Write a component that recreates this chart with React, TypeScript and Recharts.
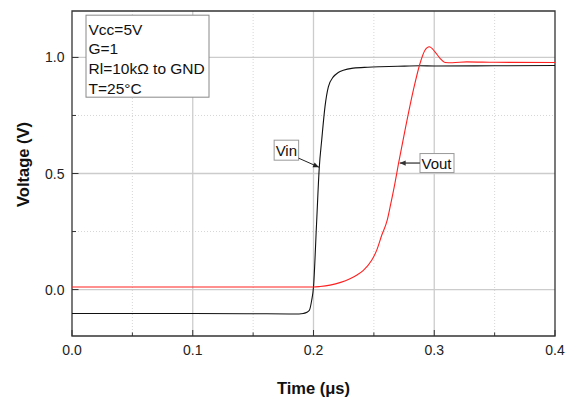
import React from 'react';
import {
  LineChart,
  Line,
  XAxis,
  YAxis,
  CartesianGrid,
  ReferenceArea,
  ReferenceLine,
  ReferenceDot,
  Label,
} from 'recharts';

// Vin trace (black)
const vinTime = [
  0, 0.05, 0.1, 0.15, 0.18, 0.188, 0.1916, 0.1945, 0.1966, 0.1985, 0.2,
  0.2025, 0.2048, 0.2068, 0.2095, 0.2123, 0.2164, 0.2205, 0.2247, 0.233,
  0.245, 0.255, 0.27, 0.288, 0.3, 0.35, 0.4,
];
const vinVolt = [
  -0.103, -0.103, -0.103, -0.104, -0.105, -0.105, -0.103, -0.098, -0.089,
  -0.046, 0.011, 0.28, 0.527, 0.644, 0.787, 0.873, 0.916, 0.935, 0.945, 0.954,
  0.958, 0.96, 0.962, 0.964, 0.963, 0.964, 0.965,
];

// Vout trace (red)
const voutTime = [
  0, 0.1, 0.2, 0.2054, 0.2137, 0.2225, 0.2302, 0.236, 0.2413, 0.2482, 0.2523,
  0.2565, 0.2611, 0.2634, 0.2675, 0.2703, 0.2758, 0.2827, 0.2882, 0.2923,
  0.2959, 0.3006, 0.3048, 0.3089, 0.315, 0.327, 0.35, 0.4,
];
const voutVolt = [
  0.011, 0.011, 0.011, 0.013, 0.019, 0.031, 0.047, 0.063, 0.083, 0.126,
  0.169, 0.234, 0.3, 0.355, 0.46, 0.54, 0.687, 0.859, 0.974, 1.031, 1.046,
  1.024, 0.996, 0.978, 0.977, 0.981, 0.979, 0.978,
];

const xTicks = [0, 0.05, 0.1, 0.15, 0.2, 0.25, 0.3, 0.35, 0.4];
const yTicks = [0, 0.25, 0.5, 0.75, 1.0];
const xMajorGrid = [0.1, 0.2, 0.3];
const xMinorGrid = [0.05, 0.15, 0.25, 0.35];
const yMajorGrid = [0, 0.5, 1.0];
const yMinorGrid = [0.25, 0.75];

const conditions = ['Vcc=5V', 'G=1', 'Rl=10kΩ to GND', 'T=25°C'];

const vinData = vinTime.map((t, i) => ({ t, v: vinVolt[i] }));
const voutData = voutTime.map((t, i) => ({ t, v: voutVolt[i] }));

const FONT = '"Liberation Sans", Arial, sans-serif';

const isMajor = (v: number, step: number) =>
  Math.abs(v / step - Math.round(v / step)) < 1e-6;

const XTick = (props: any) => {
  const { x, y, payload } = props;
  const major = isMajor(payload.value, 0.1);
  return (
    <g>
      <line x1={x} x2={x} y1={y} y2={y - (major ? 6 : 3.5)} stroke='#333' />
      {major && (
        <text x={x} y={y + 19} textAnchor='middle' fontSize={14} fontFamily={FONT} fill='#222'>
          {payload.value.toFixed(1)}
        </text>
      )}
    </g>
  );
};

const YTick = (props: any) => {
  const { x, y, payload } = props;
  const major = isMajor(payload.value, 0.5);
  return (
    <g>
      <line x1={x} x2={x + (major ? 6.5 : 4)} y1={y} y2={y} stroke='#333' />
      {major && (
        <text x={x - 7.5} y={y + 5} textAnchor='end' fontSize={14} fontFamily={FONT} fill='#222'>
          {payload.value.toFixed(1)}
        </text>
      )}
    </g>
  );
};

const arrowHead = (x1: number, y1: number, x2: number, y2: number, color: string) => {
  const a = Math.atan2(y2 - y1, x2 - x1);
  const c = Math.cos(a);
  const s = Math.sin(a);
  const bx = x2 - 6 * c;
  const by = y2 - 6 * s;
  const pts = `${x2},${y2} ${bx - 2.6 * s},${by + 2.6 * c} ${bx + 2.6 * s},${by - 2.6 * c}`;
  return <polygon points={pts} fill={color} />;
};

// label box sits left of the arrow start
const VinShape = (p: any) => {
  const { x1, y1, x2, y2 } = p;
  return (
    <g>
      <rect x={x1 - 24.5} y={y1 - 18} width={24.5} height={20} fill='#fff' stroke='#999' />
      <text x={x1 - 23} y={y1 - 2.5} fontSize={15} fontFamily={FONT} fill='#111'>
        Vin
      </text>
      <line x1={x1} y1={y1} x2={x2} y2={y2} stroke='#222' />
      {arrowHead(x1, y1, x2, y2, '#222')}
    </g>
  );
};

// label box sits right of the arrow start
const VoutShape = (p: any) => {
  const { x1, y1, x2, y2 } = p;
  return (
    <g>
      <rect x={x1} y={y1 - 9.5} width={34} height={19} fill='#fff' stroke='#999' />
      <text x={x1 + 1.5} y={y1 + 6} fontSize={15} fontFamily={FONT} fill='#111'>
        Vout
      </text>
      <line x1={x1} y1={y1} x2={x2} y2={y2} stroke='#555' strokeWidth={1.5} />
      {arrowHead(x1, y1, x2, y2, '#333')}
    </g>
  );
};

const ConditionsBox = (p: any) => {
  const { cx, cy } = p;
  return (
    <g>
      <rect x={cx} y={cy} width={123} height={82} fill='#fff' stroke='#888' />
      {conditions.map((c, i) => (
        <text key={c} x={cx + 2.5} y={cy + 19.5 + i * 19.7} fontSize={15.5} fontFamily={FONT} fill='#111'>
          {c}
        </text>
      ))}
    </g>
  );
};

export default function App() {
  return (
    <div style={{ position: 'absolute', left: 0, top: 0, background: '#fff' }}>
      <LineChart
        width={574}
        height={399}
        margin={{ top: 11, right: 19, bottom: 0, left: 0 }}
      >
        <CartesianGrid
          horizontalValues={yMinorGrid}
          verticalValues={xMinorGrid}
          stroke='#d6d6d6'
          strokeDasharray='1 2'
        />
        <CartesianGrid
          horizontalValues={yMajorGrid}
          verticalValues={xMajorGrid}
          stroke='#cccccc'
          strokeWidth={1.3}
        />
        <XAxis
          type='number'
          dataKey='t'
          domain={[0, 0.4]}
          ticks={xTicks}
          interval={0}
          height={63}
          tickSize={0}
          tickMargin={0}
          axisLine={false}
          tick={XTick}
          allowDataOverflow
        >
          <Label
            content={(p: any) => {
              const vb = p.viewBox;
              return (
                <text
                  x={vb.x + vb.width / 2}
                  y={vb.y + 57.5}
                  textAnchor='middle'
                  fontSize={16.5}
                  fontWeight='bold'
                  fontFamily={FONT}
                  fill='#111'
                >
                  Time (μs)
                </text>
              );
            }}
          />
        </XAxis>
        <YAxis
          type='number'
          domain={[-0.2, 1.2]}
          ticks={yTicks}
          interval={0}
          width={72}
          tickSize={0}
          tickMargin={0}
          axisLine={false}
          tick={YTick}
          allowDataOverflow
        >
          <Label
            content={(p: any) => {
              const vb = p.viewBox;
              const cx = vb.x + 29;
              const cy = vb.y + vb.height / 2 - 9;
              return (
                <text
                  x={cx}
                  y={cy}
                  transform={`rotate(-90, ${cx}, ${cy})`}
                  textAnchor='middle'
                  fontSize={16.5}
                  fontWeight='bold'
                  fontFamily={FONT}
                  fill='#111'
                >
                  Voltage (V)
                </text>
              );
            }}
          />
        </YAxis>
        <ReferenceArea
          x1={0}
          x2={0.4}
          y1={-0.2}
          y2={1.2}
          fill='none'
          stroke='#333'
          strokeWidth={1.3}
          fillOpacity={0}
        />
        <Line
          data={vinData}
          dataKey='v'
          type='monotone'
          stroke='#111'
          strokeWidth={1.1}
          dot={false}
          isAnimationActive={false}
        />
        <Line
          data={voutData}
          dataKey='v'
          type='monotone'
          stroke='#ff2020'
          strokeWidth={1.1}
          dot={false}
          isAnimationActive={false}
        />
        <ReferenceLine
          segment={[
            { x: 0.1877, y: 0.566 },
            { x: 0.2046, y: 0.527 },
          ]}
          shape={VinShape}
        />
        <ReferenceLine
          segment={[
            { x: 0.2882, y: 0.545 },
            { x: 0.2714, y: 0.545 },
          ]}
          shape={VoutShape}
        />
        <ReferenceDot x={0.0116} y={1.182} r={0} shape={ConditionsBox} />
      </LineChart>
    </div>
  );
}
